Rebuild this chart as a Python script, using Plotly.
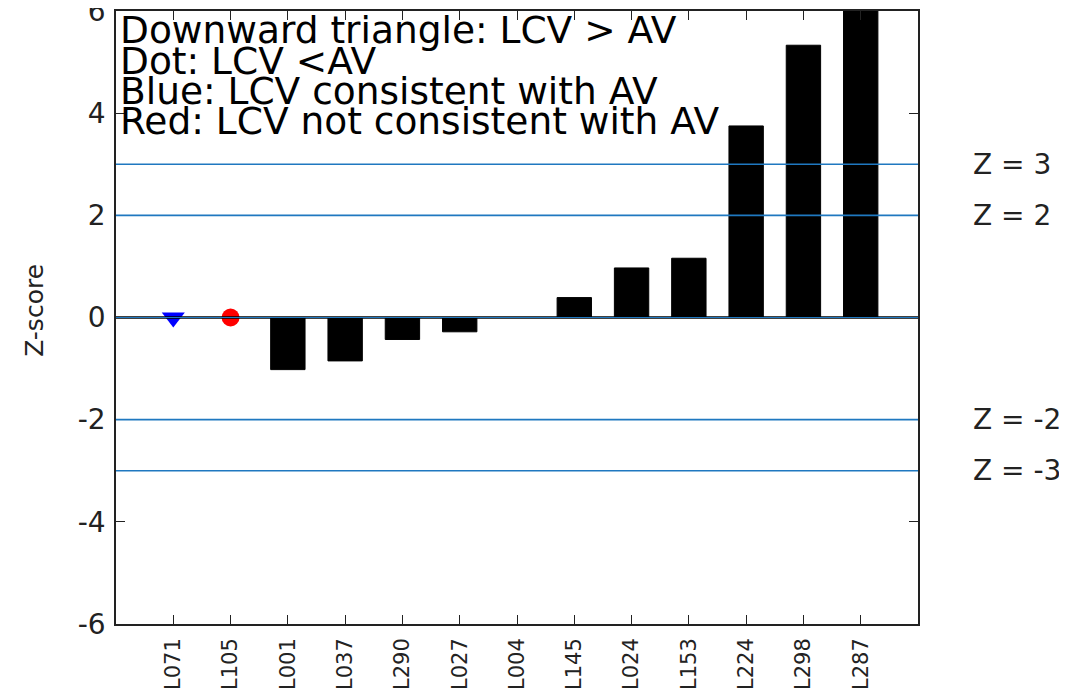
import plotly.graph_objects as go

categories = ["L071", "L105", "L001", "L037", "L290", "L027", "L004",
              "L145", "L024", "L153", "L224", "L298", "L287"]
z_scores = [None, None, -1.02, -0.85, -0.43, -0.28, 0.0,
            0.39, 0.97, 1.16, 3.75, 5.33, 6.3]

# point markers (LCV vs AV)
triangle_labs = ["L071"]
triangle_vals = [0.0]
dot_labs = ["L105"]
dot_vals = [0.0]

z_lines = [3, 2, -2, -3]
z_line_labels = ["Z = 3", "Z = 2", "Z = -2", "Z = -3"]

legend_lines = ["Downward triangle: LCV > AV", "Dot: LCV <AV",
                "Blue: LCV consistent with AV", "Red: LCV not consistent with AV"]
legend_y = [5.62, 5.03, 4.43, 3.85]

ytick_vals = [-6, -4, -2, 0, 2, 4, 6]
ytick_text = ["-6", "-4", "-2", "0", "2", "4", "6"]

FONT = "DejaVu Sans, Verdana, sans-serif"
LINE_BLUE = "#1f78c0"
AX = "#222222"

fig = go.Figure()
fig.add_trace(go.Bar(x=categories, y=z_scores, width=0.6,
                     marker=dict(color="black", line=dict(color="black", width=1)),
                     showlegend=False))
fig.add_trace(go.Scatter(x=triangle_labs, y=triangle_vals, mode="markers",
                         marker=dict(symbol="triangle-down", color="#0000ff", size=20),
                         showlegend=False))
fig.add_trace(go.Scatter(x=dot_labs, y=dot_vals, mode="markers",
                         marker=dict(symbol="circle", color="#ff0000", size=18),
                         showlegend=False))

shapes = []
shapes.append(dict(type="line", xref="paper", x0=0, x1=1, yref="y", y0=0, y1=0,
                   line=dict(color="black", width=2.5), layer="above"))
shapes.append(dict(type="line", xref="paper", x0=0, x1=1, yref="y", y0=0, y1=0,
                   line=dict(color=LINE_BLUE, width=1), layer="above"))
for v in z_lines:
    shapes.append(dict(type="line", xref="paper", x0=0, x1=1, yref="y", y0=v, y1=v,
                       line=dict(color=LINE_BLUE, width=1.6), layer="above"))

annotations = []
for txt, v in zip(z_line_labels, z_lines):
    annotations.append(dict(text=txt, xref="paper", x=1.066, xanchor="left",
                            yref="y", y=v, yanchor="middle", showarrow=False,
                            font=dict(family=FONT, size=28, color=AX)))
for txt, v in zip(legend_lines, legend_y):
    annotations.append(dict(text=txt, xref="paper", x=0.0025, xanchor="left",
                            yref="y", y=v, yanchor="middle", showarrow=False,
                            font=dict(family=FONT, size=37.5, color="black")))
annotations.append(dict(text="Z-score", xref="paper", x=-0.101, xanchor="center",
                        yref="y", y=0.15, yanchor="middle", showarrow=False,
                        textangle=-90, font=dict(family=FONT, size=25, color=AX)))

# page body adds an 8px offset, so size/margins are reduced by it
fig.update_layout(
    width=1059, height=686,
    margin=dict(l=108, r=149, t=3, b=70),
    paper_bgcolor="white", plot_bgcolor="white",
    shapes=shapes, annotations=annotations,
    font=dict(family=FONT, color=AX),
)
fig.update_xaxes(
    type="category", range=[-1, 13], automargin=False,
    showline=True, linecolor=AX, linewidth=1.5, mirror="ticks",
    ticks="inside", ticklen=9, tickwidth=1.2, tickcolor=AX,
    tickangle=-90, tickfont=dict(size=21, family=FONT, color=AX),
    ticklabelstandoff=4, showgrid=False, zeroline=False,
)
fig.update_yaxes(
    range=[-6, 6], tickvals=ytick_vals, ticktext=ytick_text, automargin=False,
    showline=True, linecolor=AX, linewidth=1.5, mirror="ticks",
    ticks="inside", ticklen=9, tickwidth=1.2, tickcolor=AX,
    tickfont=dict(size=28, family=FONT, color=AX), ticklabeloverflow="allow",
    ticklabelstandoff=3, showgrid=False, zeroline=False,
)

fig.write_html("out.html")
